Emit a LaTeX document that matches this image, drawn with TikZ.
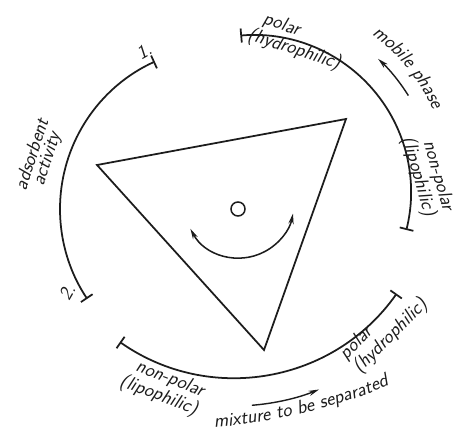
\documentclass[tikz,border=0pt]{standalone}
\usepackage{tikz}
\usepackage{xcolor}
\usetikzlibrary{
    positioning,
    calc,
    arrows.meta,
    decorations.text
}
\definecolor{Tinta}{HTML}{1C1C1C}
\newcommand{\fonterotulo}{\fontsize{16.5}{13}\selectfont\sffamily\itshape}

\tikzset{
    arco/.style={
        draw=Tinta,
        line width=1.5pt,
        arrows={Bar[width=12pt]-Bar[width=12pt]}
    },
    seta/.style={
        draw=Tinta,
        line width=1.2pt,
        -{Stealth[length=9pt,width=4.5pt]}
    },
    rotulo/.style={
        text=Tinta,
        font=\fonterotulo,
        align=left,
        inner sep=0pt
    },
    curvo/.style={
        decorate,
        decoration={
            text along path,
            text={|\fonterotulo|#1},
            text color=Tinta,
            text align=center
        }
    }
}

\begin{document}
\begin{tikzpicture}[scale=0.03]

    \useasboundingbox (-233,-224) rectangle (221,207);

    \coordinate (cEsq) at (-11,-2);
    \coordinate (cSup) at (21,15);
    \coordinate (cInf) at (1,28);
    \coordinate (cTexto) at (-70,374);
    \coordinate (cRot) at (6,4);

    \draw[arco] ([shift={(114.5:162)}]cEsq)
        arc[start angle=114.5, end angle=213.7, radius=162];
    \draw[arco] ([shift={(95:157)}]cSup)
        arc[start angle=95, end angle=-14, radius=157];
    \draw[arco] ([shift={(235:199)}]cInf)
        arc[start angle=235, end angle=324.8, radius=199];

    \draw[draw=Tinta, line width=1.5pt, line join=miter]
        (-136,42) coordinate (vEsq)
        -- (113,88) coordinate (vSup)
        -- (31,-143) coordinate (vInf)
        -- cycle;

    \draw[draw=Tinta, line width=1.3pt] (5,-2) circle[radius=7];

    \draw[
        draw=Tinta,
        line width=1.3pt,
        {Stealth[length=9pt,width=4.5pt]}-{Stealth[length=9pt,width=4.5pt]}
    ] ([shift={(208:55)}]cRot) arc[start angle=208, end angle=349, radius=55];

    \node[rotulo, rotate=30] (um) at (-89,156) {1.};
    \node[rotulo, rotate=60] (dois) at (-166,-85) {2.};

    \node[rotulo, rotate=72, align=center] (atividade) at (-193,50)
        {adsorbent\\activity};

    \node[rotulo, rotate=-18] (polarSup) at (64,166)
        {\hspace{0.5em}polar\\(hydrophilic)};

    \path[curvo={mobile phase}] ([shift={(60:197)}]cSup)
        arc[start angle=60, end angle=18, radius=197];
    \draw[seta] ([shift={(32:182)}]cSup)
        arc[start angle=32, end angle=47, radius=182];

    \node[rotulo, rotate=-74] (apolarDir) at (194,33)
        {\hspace{0.5em}non-polar\\(lipophilic)};

    \node[rotulo, rotate=-21] (apolarInf) at (-71,-180)
        {\hspace{0.5em}non-polar\\(lipophilic)};

    \node[rotulo, rotate=45] (polarInf) at (151,-123)
        {polar\\(hydrophilic)};

    \begin{scope}[scale=10]
        \path[curvo={mixture to be separated}] ([shift={(273.5:59.7)}]cTexto)
            arc[start angle=273.5, end angle=293.7, radius=59.7];
    \end{scope}
    \draw[seta] ([shift={(274.5:227)}]cInf)
        arc[start angle=274.5, end angle=292, radius=227];

\end{tikzpicture}
\end{document}
